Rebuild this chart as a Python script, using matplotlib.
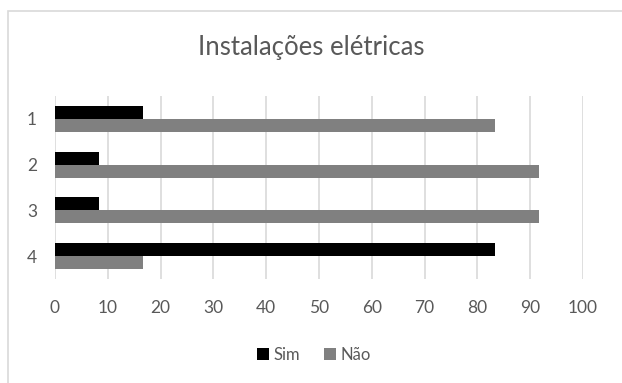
import matplotlib
matplotlib.use("Agg")
import matplotlib.pyplot as plt
import numpy as np
from matplotlib.patches import Rectangle

categories = ["1", "2", "3", "4"]
sim = [16.67, 8.33, 8.33, 83.33]
nao = [83.33, 91.67, 91.67, 16.67]
series_names = ["Sim", "Não"]
x_ticks = [0, 10, 20, 30, 40, 50, 60, 70, 80, 90, 100]

plt.rcParams["font.family"] = ["Lato", "DejaVu Sans"]

fig = plt.figure(figsize=(6.22, 3.83), dpi=100)
ax = fig.add_axes([55 / 622, 1 - 279 / 383, (583 - 55) / 622, (279 - 96) / 383])

# chart frame, open on the right and bottom
fig.patches.append(Rectangle((8 / 622, -0.1), 1.2, 1 - 11 / 383 + 0.1,
                             transform=fig.transFigure, fill=False,
                             edgecolor="#d9d9d9", linewidth=1.2, zorder=0))

y = np.arange(len(categories))
h = 0.285
ax.barh(y - h / 2, sim, height=h, color="#000000", label=series_names[0], zorder=3)
ax.barh(y + h / 2, nao, height=h, color="#808080", label=series_names[1], zorder=3)

ax.set_ylim(len(categories) - 0.5, -0.5)
ax.set_yticks(y)
ax.set_yticklabels(categories)
ax.set_xlim(0, 100)
ax.set_xticks(x_ticks)
ax.xaxis.grid(True, color="#d9d9d9", linewidth=1.2, zorder=0)
ax.set_axisbelow(True)
for s in ax.spines.values():
    s.set_visible(False)
ax.tick_params(axis="both", length=0, labelsize=12.5, labelcolor="#595959")
ax.tick_params(axis="x", pad=15)
ax.tick_params(axis="y", pad=13)

fig.text(0.5, 1 - 47 / 383, "Instalações elétricas", ha="center", va="center",
         fontsize=18.5, color="#595959")

fig.legend(loc="center", bbox_to_anchor=(0.505, 1 - 355 / 383), ncol=2, frameon=False,
           fontsize=12, handlelength=0.7, handleheight=0.7, handletextpad=0.3,
           columnspacing=1.4, labelcolor="#595959")

fig.savefig("out.png", dpi=100)
